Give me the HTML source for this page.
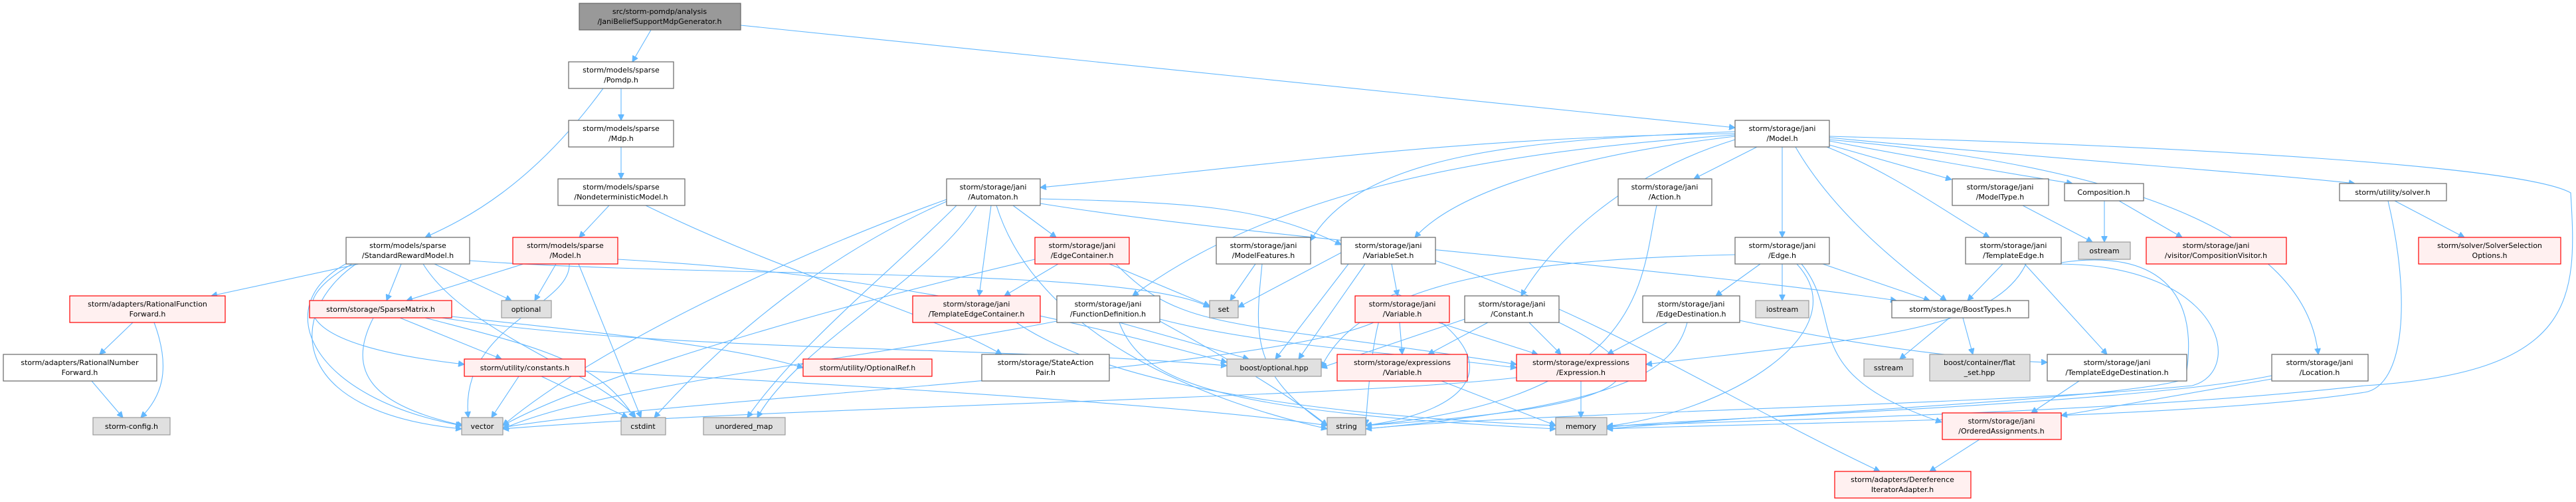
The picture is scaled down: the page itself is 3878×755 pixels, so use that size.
<!DOCTYPE html>
<html><head><meta charset="utf-8"><style>
html,body{margin:0;padding:0;background:#fff;}
svg{display:block;}
text{font-family:"DejaVu Sans","Liberation Sans",sans-serif;font-size:11px;fill:#000;}
.n rect{fill:#fff;stroke:#666;stroke-width:1.2;}
.r rect{fill:#fff0f0;stroke:#f00;stroke-width:1.2;}
.g rect{fill:#e0e0e0;stroke:#999;stroke-width:1.2;}
.k rect{fill:#999;stroke:#666;stroke-width:1.2;}
path{fill:none;stroke:#63b8ff;stroke-width:1.1;}
</style></head><body>
<svg width="3878" height="755" viewBox="0 0 3878 755" xmlns="http://www.w3.org/2000/svg">
<defs><marker id="a" viewBox="0 0 10 10" refX="10" refY="5" markerWidth="9" markerHeight="9" markerUnits="userSpaceOnUse" orient="auto"><path d="M0,0 L10,5 L0,10 z" style="fill:#63b8ff;stroke:#63b8ff"/></marker></defs>
<g marker-end="url(#a)">
<path d="M1115,38 L2612,192"/>
<path d="M980,45 L952,93"/>
<path d="M935,133 L935,181"/>
<path d="M908,133 C800,280 700,330 640,357"/>
<path d="M935,221 L935,269"/>
<path d="M917,309 L872,357"/>
<path d="M972,309 C1200,420 1400,470 1508,533"/>
<path d="M540,397 L318,445"/>
<path d="M604,397 L582,452"/>
<path d="M654,397 L770,452"/>
<path d="M637,397 C700,500 900,560 957,628"/>
<path d="M524,395 C400,460 470,600 695,640"/>
<path d="M536,397 C430,470 430,620 695,645"/>
<path d="M530,397 C420,460 450,520 699,548"/>
<path d="M707,392 C1100,420 1700,400 1821,462"/>
<path d="M788,397 L612,452"/>
<path d="M837,397 L805,452"/>
<path d="M857,397 C860,460 690,490 705,628"/>
<path d="M871,397 L965,628"/>
<path d="M930,390 C1100,400 1400,420 1847,545"/>
<path d="M200,485 L150,533"/>
<path d="M232,485 C260,560 240,600 212,628"/>
<path d="M138,573 L185,628"/>
<path d="M562,478 C520,560 560,610 697,640"/>
<path d="M602,478 L755,540"/>
<path d="M640,478 C800,520 900,540 955,628"/>
<path d="M665,478 C1000,530 1500,520 1847,550"/>
<path d="M680,476 C900,500 1100,520 1209,553"/>
<path d="M781,566 L740,628"/>
<path d="M815,566 L945,628"/>
<path d="M881,558 C1300,580 1800,610 1998,640"/>
<path d="M1425,300 C1200,380 900,520 757,640"/>
<path d="M1425,303 C1250,380 1100,500 985,628"/>
<path d="M1440,309 C1350,400 1200,520 1125,628"/>
<path d="M1470,309 C1400,420 1200,520 1140,628"/>
<path d="M1492,309 L1474,445"/>
<path d="M1500,309 C1560,500 1800,600 1998,645"/>
<path d="M1525,309 L1590,357"/>
<path d="M1566,299 C1800,305 1900,310 2019,368"/>
<path d="M1566,306 C1900,360 2500,400 2855,452"/>
<path d="M1593,397 L1512,445"/>
<path d="M1558,390 C1300,450 900,560 757,640"/>
<path d="M1670,397 L1821,460"/>
<path d="M1680,397 C1780,500 1850,480 2283,548"/>
<path d="M1530,485 C1700,600 2100,630 2342,640"/>
<path d="M1591,483 C1300,540 900,580 757,645"/>
<path d="M1685,485 L1880,540"/>
<path d="M1746,480 C1900,520 2100,530 2283,553"/>
<path d="M1746,483 C1850,540 1950,600 1998,640"/>
<path d="M1685,485 C1720,580 1850,620 2342,645"/>
<path d="M1890,397 L1852,452"/>
<path d="M1900,397 C1890,500 1880,560 1998,640"/>
<path d="M2019,380 L1864,462"/>
<path d="M2030,397 L1920,540"/>
<path d="M2055,397 L1955,540"/>
<path d="M2095,397 L2104,445"/>
<path d="M2161,392 C2400,470 2600,600 2830,709"/>
<path d="M2612,201 C2200,205 1900,250 1566,282"/>
<path d="M2612,203 C2200,230 1900,300 1705,445"/>
<path d="M2612,205 C2400,230 2200,280 2130,357"/>
<path d="M2645,221 L2550,269"/>
<path d="M2683,221 L2683,357"/>
<path d="M2612,210 C2450,260 2340,360 2290,445"/>
<path d="M2703,221 C2760,320 2860,400 2930,452"/>
<path d="M2754,218 L2938,270"/>
<path d="M2754,212 C2900,240 3050,265 3120,276"/>
<path d="M2754,207 C3100,240 3400,260 3545,276"/>
<path d="M2750,221 C2850,260 2930,320 2995,357"/>
<path d="M2754,210 C3200,250 3470,350 3490,533"/>
<path d="M2754,205 C3300,220 3800,250 3870,290 C3880,450 3880,560 3560,580 C3200,620 2700,630 2419,641"/>
<path d="M2612,198 C2300,210 2050,230 1973,362"/>
<path d="M2494,309 C2470,420 2480,600 2056,640"/>
<path d="M2612,383 C2300,390 2050,420 1989,553"/>
<path d="M2650,397 L2583,445"/>
<path d="M2683,397 L2683,452"/>
<path d="M2705,397 C2800,500 2600,620 2419,641"/>
<path d="M2712,397 C2780,480 2700,560 2923,635"/>
<path d="M2744,397 L2905,452"/>
<path d="M2110,445 C2100,440 2070,420 2056,640"/>
<path d="M2107,485 L2111,533"/>
<path d="M2068,485 C1900,560 1000,600 757,643"/>
<path d="M2165,485 L2315,533"/>
<path d="M2170,485 C2260,560 2200,620 2056,640"/>
<path d="M2240,485 L2150,533"/>
<path d="M2302,485 L2350,533"/>
<path d="M2205,480 L1989,553"/>
<path d="M2347,485 C2500,560 2500,610 2056,640"/>
<path d="M2510,485 L2420,533"/>
<path d="M2540,485 C2520,560 2440,610 2056,645"/>
<path d="M2619,482 C2800,520 2950,540 3082,545"/>
<path d="M2380,573 L2380,628"/>
<path d="M2283,568 C2000,600 1200,610 757,645"/>
<path d="M2170,573 L2342,640"/>
<path d="M2935,478 L2860,540"/>
<path d="M2955,478 L2970,533"/>
<path d="M3015,397 L2962,452"/>
<path d="M3048,397 L3172,533"/>
<path d="M3103,395 C3200,380 3320,400 3290,570 C3200,600 2700,620 2419,645"/>
<path d="M3050,397 C3000,500 2800,510 2478,548"/>
<path d="M3130,573 L3058,621"/>
<path d="M2980,661 L2905,709"/>
<path d="M3420,565 C3200,610 2500,630 2419,643"/>
<path d="M3420,570 L3103,625"/>
<path d="M3045,309 L3150,364"/>
<path d="M3168,302 L3168,364"/>
<path d="M3190,302 L3285,357"/>
<path d="M3605,302 L3710,357"/>
<path d="M3595,302 C3630,450 3620,580 3560,590 C3300,630 2700,635 2419,645"/>
<path d="M3100,397 C3350,400 3380,560 3300,580 C3000,610 2300,620 2056,645"/>
</g>
<g class="k"><rect x="872" y="5" width="243" height="40"/><text x="993" y="21" text-anchor="middle">src/storm-pomdp/analysis</text><text x="993" y="36" text-anchor="middle">/JaniBeliefSupportMdpGenerator.h</text></g>
<g class="n"><rect x="856" y="93" width="158" height="40"/><text x="935" y="109" text-anchor="middle">storm/models/sparse</text><text x="935" y="124" text-anchor="middle">/Pomdp.h</text></g>
<g class="n"><rect x="856" y="181" width="158" height="40"/><text x="935" y="197" text-anchor="middle">storm/models/sparse</text><text x="935" y="212" text-anchor="middle">/Mdp.h</text></g>
<g class="n"><rect x="840" y="269" width="191" height="40"/><text x="935" y="285" text-anchor="middle">storm/models/sparse</text><text x="935" y="300" text-anchor="middle">/NondeterministicModel.h</text></g>
<g class="n"><rect x="521" y="357" width="186" height="40"/><text x="614" y="373" text-anchor="middle">storm/models/sparse</text><text x="614" y="388" text-anchor="middle">/StandardRewardModel.h</text></g>
<g class="r"><rect x="772" y="357" width="158" height="40"/><text x="851" y="373" text-anchor="middle">storm/models/sparse</text><text x="851" y="388" text-anchor="middle">/Model.h</text></g>
<g class="r"><rect x="105" y="445" width="234" height="40"/><text x="222" y="461" text-anchor="middle">storm/adapters/RationalFunction</text><text x="222" y="476" text-anchor="middle">Forward.h</text></g>
<g class="n"><rect x="5" y="533" width="231" height="40"/><text x="120" y="549" text-anchor="middle">storm/adapters/RationalNumber</text><text x="120" y="564" text-anchor="middle">Forward.h</text></g>
<g class="g"><rect x="140" y="628" width="116" height="26"/><text x="198" y="645" text-anchor="middle">storm-config.h</text></g>
<g class="r"><rect x="466" y="452" width="214" height="26"/><text x="573" y="469" text-anchor="middle">storm/storage/SparseMatrix.h</text></g>
<g class="g"><rect x="755" y="452" width="75" height="26"/><text x="792" y="469" text-anchor="middle">optional</text></g>
<g class="r"><rect x="699" y="540" width="182" height="26"/><text x="790" y="557" text-anchor="middle">storm/utility/constants.h</text></g>
<g class="g"><rect x="695" y="628" width="62" height="26"/><text x="726" y="645" text-anchor="middle">vector</text></g>
<g class="g"><rect x="935" y="628" width="67" height="26"/><text x="968" y="645" text-anchor="middle">cstdint</text></g>
<g class="n"><rect x="1425" y="269" width="141" height="40"/><text x="1495" y="285" text-anchor="middle">storm/storage/jani</text><text x="1495" y="300" text-anchor="middle">/Automaton.h</text></g>
<g class="r"><rect x="1558" y="357" width="142" height="40"/><text x="1629" y="373" text-anchor="middle">storm/storage/jani</text><text x="1629" y="388" text-anchor="middle">/EdgeContainer.h</text></g>
<g class="n"><rect x="1831" y="357" width="142" height="40"/><text x="1902" y="373" text-anchor="middle">storm/storage/jani</text><text x="1902" y="388" text-anchor="middle">/ModelFeatures.h</text></g>
<g class="r"><rect x="1374" y="445" width="192" height="40"/><text x="1470" y="461" text-anchor="middle">storm/storage/jani</text><text x="1470" y="476" text-anchor="middle">/TemplateEdgeContainer.h</text></g>
<g class="n"><rect x="1591" y="445" width="155" height="40"/><text x="1668" y="461" text-anchor="middle">storm/storage/jani</text><text x="1668" y="476" text-anchor="middle">/FunctionDefinition.h</text></g>
<g class="g"><rect x="1821" y="452" width="43" height="26"/><text x="1842" y="469" text-anchor="middle">set</text></g>
<g class="r"><rect x="1209" y="540" width="194" height="26"/><text x="1306" y="557" text-anchor="middle">storm/utility/OptionalRef.h</text></g>
<g class="n"><rect x="1478" y="533" width="192" height="40"/><text x="1574" y="549" text-anchor="middle">storm/storage/StateAction</text><text x="1574" y="564" text-anchor="middle">Pair.h</text></g>
<g class="g"><rect x="1847" y="540" width="142" height="26"/><text x="1918" y="557" text-anchor="middle">boost/optional.hpp</text></g>
<g class="g"><rect x="1059" y="628" width="123" height="26"/><text x="1120" y="645" text-anchor="middle">unordered_map</text></g>
<g class="g"><rect x="1998" y="628" width="58" height="26"/><text x="2027" y="645" text-anchor="middle">string</text></g>
<g class="n"><rect x="2612" y="181" width="142" height="40"/><text x="2683" y="197" text-anchor="middle">storm/storage/jani</text><text x="2683" y="212" text-anchor="middle">/Model.h</text></g>
<g class="n"><rect x="2436" y="269" width="141" height="40"/><text x="2506" y="285" text-anchor="middle">storm/storage/jani</text><text x="2506" y="300" text-anchor="middle">/Action.h</text></g>
<g class="n"><rect x="2939" y="269" width="145" height="40"/><text x="3011" y="285" text-anchor="middle">storm/storage/jani</text><text x="3011" y="300" text-anchor="middle">/ModelType.h</text></g>
<g class="n"><rect x="2019" y="357" width="142" height="40"/><text x="2090" y="373" text-anchor="middle">storm/storage/jani</text><text x="2090" y="388" text-anchor="middle">/VariableSet.h</text></g>
<g class="n"><rect x="2612" y="357" width="142" height="40"/><text x="2683" y="373" text-anchor="middle">storm/storage/jani</text><text x="2683" y="388" text-anchor="middle">/Edge.h</text></g>
<g class="n"><rect x="2959" y="357" width="144" height="40"/><text x="3031" y="373" text-anchor="middle">storm/storage/jani</text><text x="3031" y="388" text-anchor="middle">/TemplateEdge.h</text></g>
<g class="r"><rect x="2040" y="445" width="142" height="40"/><text x="2111" y="461" text-anchor="middle">storm/storage/jani</text><text x="2111" y="476" text-anchor="middle">/Variable.h</text></g>
<g class="n"><rect x="2205" y="445" width="142" height="40"/><text x="2276" y="461" text-anchor="middle">storm/storage/jani</text><text x="2276" y="476" text-anchor="middle">/Constant.h</text></g>
<g class="n"><rect x="2473" y="445" width="146" height="40"/><text x="2546" y="461" text-anchor="middle">storm/storage/jani</text><text x="2546" y="476" text-anchor="middle">/EdgeDestination.h</text></g>
<g class="g"><rect x="2643" y="452" width="80" height="26"/><text x="2683" y="469" text-anchor="middle">iostream</text></g>
<g class="n"><rect x="2848" y="452" width="206" height="26"/><text x="2951" y="469" text-anchor="middle">storm/storage/BoostTypes.h</text></g>
<g class="r"><rect x="2013" y="533" width="196" height="40"/><text x="2111" y="549" text-anchor="middle">storm/storage/expressions</text><text x="2111" y="564" text-anchor="middle">/Variable.h</text></g>
<g class="r"><rect x="2283" y="533" width="195" height="40"/><text x="2380" y="549" text-anchor="middle">storm/storage/expressions</text><text x="2380" y="564" text-anchor="middle">/Expression.h</text></g>
<g class="g"><rect x="2806" y="540" width="74" height="26"/><text x="2843" y="557" text-anchor="middle">sstream</text></g>
<g class="g"><rect x="2905" y="533" width="151" height="40"/><text x="2980" y="549" text-anchor="middle">boost/container/flat</text><text x="2980" y="564" text-anchor="middle">_set.hpp</text></g>
<g class="g"><rect x="2342" y="628" width="77" height="26"/><text x="2380" y="645" text-anchor="middle">memory</text></g>
<g class="r"><rect x="2924" y="621" width="179" height="40"/><text x="3013" y="637" text-anchor="middle">storm/storage/jani</text><text x="3013" y="652" text-anchor="middle">/OrderedAssignments.h</text></g>
<g class="r"><rect x="2762" y="709" width="205" height="40"/><text x="2864" y="725" text-anchor="middle">storm/adapters/Dereference</text><text x="2864" y="740" text-anchor="middle">IteratorAdapter.h</text></g>
<g class="n"><rect x="3108" y="276" width="119" height="26"/><text x="3167" y="293" text-anchor="middle">Composition.h</text></g>
<g class="n"><rect x="3522" y="276" width="161" height="26"/><text x="3602" y="293" text-anchor="middle">storm/utility/solver.h</text></g>
<g class="g"><rect x="3129" y="364" width="78" height="26"/><text x="3168" y="381" text-anchor="middle">ostream</text></g>
<g class="r"><rect x="3231" y="357" width="211" height="40"/><text x="3336" y="373" text-anchor="middle">storm/storage/jani</text><text x="3336" y="388" text-anchor="middle">/visitor/CompositionVisitor.h</text></g>
<g class="r"><rect x="3641" y="357" width="214" height="40"/><text x="3748" y="373" text-anchor="middle">storm/solver/SolverSelection</text><text x="3748" y="388" text-anchor="middle">Options.h</text></g>
<g class="n"><rect x="3082" y="533" width="210" height="40"/><text x="3187" y="549" text-anchor="middle">storm/storage/jani</text><text x="3187" y="564" text-anchor="middle">/TemplateEdgeDestination.h</text></g>
<g class="n"><rect x="3420" y="533" width="145" height="40"/><text x="3492" y="549" text-anchor="middle">storm/storage/jani</text><text x="3492" y="564" text-anchor="middle">/Location.h</text></g>
</svg>
</body></html>
